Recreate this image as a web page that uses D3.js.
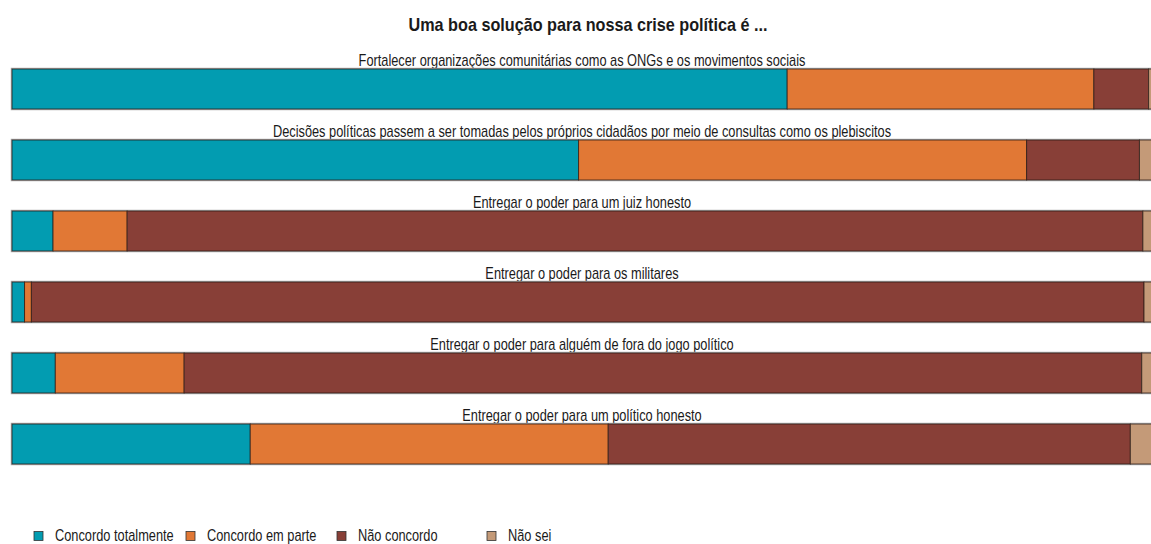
<!DOCTYPE html>
<html><head><meta charset="utf-8">
<script src="https://cdn.jsdelivr.net/npm/d3@7"></script>
<style>
html,body{margin:0;padding:0;background:#fff;}
svg{display:block;}
text{font-family:"Liberation Sans",Arial,sans-serif;fill:#1a1a1a;}
</style></head>
<body>
<svg id="chart" width="1151" height="544"></svg>
<script>
const title = "Uma boa solução para nossa crise política é ...";
const categories = [
  "Fortalecer organizações comunitárias como as ONGs e os movimentos sociais",
  "Decisões políticas passem a ser tomadas pelos próprios cidadãos por meio de consultas como os plebiscitos",
  "Entregar o poder para um juiz honesto",
  "Entregar o poder para os militares",
  "Entregar o poder para alguém de fora do jogo político",
  "Entregar o poder para um político honesto"
];
const seriesNames = ["Concordo totalmente","Concordo em parte","Não concordo","Não sei"];
const concordoTotalmente = [68.0, 49.7, 3.6, 1.1, 3.8, 20.9];
const concordoEmParte    = [26.9, 39.3, 6.5, 0.6, 11.3, 31.4];
const naoConcordo        = [4.8, 9.9, 89.1, 97.6, 84.0, 45.8];
const naoSei             = [0.3, 1.1, 0.8, 0.7, 0.9, 1.9];
const colors = ["#029cb1","#e17835","#883f37","#c49a78"];

const series = [concordoTotalmente, concordoEmParte, naoConcordo, naoSei];
const data = categories.map((c,i)=>{
  const o = {cat:c};
  seriesNames.forEach((s,j)=>o[s]=series[j][i]);
  return o;
});
const stack = d3.stack().keys(seriesNames)(data);

const svg = d3.select("#chart");
const x = d3.scaleLinear().domain([0,100]).range([12,1152]);
const y0 = d3.scaleLinear().domain([0,5]).range([69,69+71*5]);

function ntext(px, py, size, sx, txt, anchor, bold){
  const t = svg.append("text")
    .attr("transform",`translate(${px},${py}) scale(${sx},1)`)
    .attr("text-anchor",anchor||"start")
    .style("font-size",size+"px").text(txt);
  if(bold) t.style("font-weight","bold");
  return t;
}

ntext(588,31,18,0.9,title,"middle",true);

categories.forEach((c,i)=>{
  ntext(582,y0(i)-3,16,0.8,c,"middle");
  svg.append("rect").attr("x",x(0)-0.5).attr("y",y0(i)-0.5).attr("width",x(100)-x(0)+1).attr("height",41)
    .attr("fill","none").attr("stroke","#b0b0b0").attr("stroke-width",1.5);
});

stack.forEach((layer,j)=>{
  svg.append("g").selectAll("rect").data(layer).join("rect")
    .attr("x",d=>x(d[0])).attr("y",(d,i)=>y0(i))
    .attr("width",d=>x(d[1])-x(d[0])).attr("height",40)
    .attr("fill",colors[j]).attr("stroke","#2a1a14").attr("stroke-opacity",0.75).attr("stroke-width",1);
});

const legX = [34,186,337,487];
seriesNames.forEach((s,j)=>{
  svg.append("rect").attr("x",legX[j]).attr("y",531.5).attr("width",9).attr("height",9)
    .attr("fill",colors[j]).attr("stroke","#333").attr("stroke-width",0.8);
  ntext(legX[j]+21,541,16,0.8,s,"start");
});
</script>
</body></html>
